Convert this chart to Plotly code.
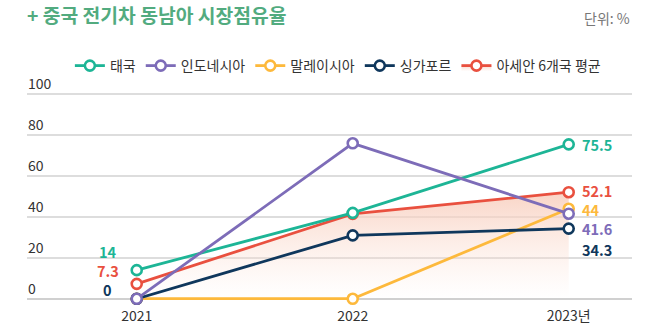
import plotly.graph_objects as go

years = ["2021", "2022", "2023년"]
series_names = ["태국", "인도네시아", "말레이시아", "싱가포르", "아세안 6개국 평균"]
thailand = [14, 42, 75.5]
indonesia = [0, 76, 41.6]
malaysia = [0, 0, 44]
singapore = [0, 31, 34.3]
asean_avg = [7.3, 41.5, 52.1]
y_ticks = [0, 20, 40, 60, 80, 100]
y_tick_labels = ["0", "20", "40", "60", "80", "100"]

colors = {
    "태국": "#1db596",
    "인도네시아": "#7d6cb8",
    "말레이시아": "#fdb93c",
    "싱가포르": "#0f375c",
    "아세안 6개국 평균": "#e9503f",
}
values = {
    "태국": thailand,
    "인도네시아": indonesia,
    "말레이시아": malaysia,
    "싱가포르": singapore,
    "아세안 6개국 평균": asean_avg,
}
xs = [0, 1, 2]
FONT = "Noto Sans CJK KR"

fig = go.Figure()
# drawing order (bottom to top)
draw_order = ["아세안 6개국 평균", "말레이시아", "싱가포르", "태국", "인도네시아"]
for name in draw_order:
    c = colors[name]
    kw = {}
    if name == "아세안 6개국 평균":
        kw = dict(fill="tozeroy",
                  fillgradient=dict(type="vertical",
                                    colorscale=[[0, "rgba(252,228,218,0)"],
                                                [1, "rgba(248,205,188,0.85)"]]))
    fig.add_trace(go.Scatter(
        x=xs, y=values[name], name=name, mode="lines+markers",
        line=dict(color=c, width=2.8),
        marker=dict(symbol="circle", size=10, color="white",
                    line=dict(color=c, width=2.6)),
        legendrank=series_names.index(name) + 1,
        cliponaxis=False,
        **kw,
    ))

# y tick labels, sitting above their gridlines
for tv, tl in zip(y_ticks, y_tick_labels):
    fig.add_annotation(x=0, y=tv, xref="paper", yref="y", text=tl,
                       showarrow=False, xanchor="left", yanchor="middle",
                       xshift=-1, yshift=11,
                       font=dict(family=FONT, size=14, color="#333333"))

# value labels at 2023 (right side)
right_shift = {"태국": 0, "아세안 6개국 평균": 2, "말레이시아": -1,
               "인도네시아": -15, "싱가포르": -21}
for name in series_names:
    v = values[name][2]
    fig.add_annotation(x=xs[2], y=v, xref="x", yref="y",
                       text="<b>%s</b>" % (f"{v:g}"), showarrow=False,
                       xanchor="left", yanchor="middle", xshift=11,
                       yshift=right_shift[name],
                       font=dict(family=FONT, size=14.5, color=colors[name]))

# value labels at 2021 (left side)
left_labels = [("태국", 19), ("아세안 6개국 평균", 13), ("싱가포르", 9)]
for name, ys in left_labels:
    v = values[name][0]
    fig.add_annotation(x=xs[0], y=v, xref="x", yref="y",
                       text="<b>%s</b>" % (f"{v:g}"), showarrow=False,
                       xanchor="center", yanchor="middle", xshift=-29,
                       yshift=ys,
                       font=dict(family=FONT, size=14.5, color=colors[name]))

fig.add_annotation(x=1, y=1 + (93 - 18) / 207, xref="paper", yref="paper",
                   text="단위: %", showarrow=False, xanchor="right",
                   yanchor="middle",
                   font=dict(family=FONT, size=14, color="#777777"))

fig.update_layout(
    width=655, height=333,
    margin=dict(l=27, r=23, t=93, b=33, autoexpand=False),
    paper_bgcolor="white", plot_bgcolor="white",
    font=dict(family=FONT, color="#333333"),
    title=dict(text="<b>+ 중국 전기차 동남아 시장점유율</b>",
               x=27 / 655, xanchor="left", xref="container",
               y=1 - 16 / 333, yanchor="middle", yref="container",
               font=dict(family=FONT, size=19.3, color="#52ab7f")),
    legend=dict(orientation="h", xref="container", yref="container",
                x=0.925, xanchor="right", y=1 - 66 / 333, yanchor="middle",
                font=dict(family=FONT, size=14, color="#333333"),
                traceorder="normal", itemwidth=30, bgcolor="rgba(0,0,0,0)"),
    showlegend=True,
)
fig.update_xaxes(range=[-0.508, 2.293], tickvals=xs, ticktext=years,
                 showgrid=False, zeroline=False, showline=False,
                 ticklabelstandoff=6, automargin=False,
                 tickfont=dict(family=FONT, size=14, color="#333333"),
                 fixedrange=True)
fig.update_yaxes(range=[-0.6, 100.6], tickvals=y_ticks,
                 showticklabels=False, automargin=False,
                 showgrid=True, gridcolor="#dddddd", gridwidth=1.5,
                 zeroline=True, zerolinecolor="#d0d0d0", zerolinewidth=1.5,
                 fixedrange=True)

fig.write_html("out.html")
